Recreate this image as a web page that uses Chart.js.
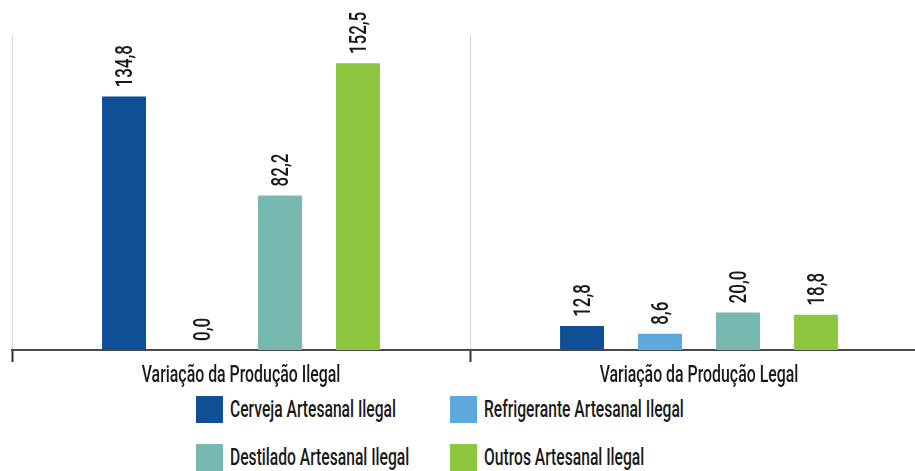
<!DOCTYPE html>
<html>
<head>
<meta charset="utf-8">
<script src="https://cdn.jsdelivr.net/npm/chart.js@4.4.0/dist/chart.umd.min.js"></script>
<style>
  html, body { margin: 0; padding: 0; background: #fff; overflow: hidden; }
  #wrap { position: relative; width: 915px; height: 471px; overflow: hidden; }
  #chart { position: absolute; left: 0; top: 0; }
  #legend {
    position: absolute; left: 196px; top: 396px;
    display: grid; grid-template-columns: 254px 320px; row-gap: 21px;
    font-family: Roboto, sans-serif; font-size: 23px; font-weight: 500; color: #1a1a1a;
  }
  .item { display: flex; align-items: center; height: 27px; white-space: nowrap; }
  .box { width: 27px; height: 27px; margin-right: 7px; flex: none; }
  .name { display: inline-block; transform: scaleX(0.68); transform-origin: left center; }
</style>
</head>
<body>
<div id="wrap">
  <canvas id="chart" width="930" height="390"></canvas>
  <div id="legend"></div>
</div>
<script>
// Categories and series
const categories = ['Variação da Produção Ilegal', 'Variação da Produção Legal'];
const seriesNames = ['Cerveja Artesanal Ilegal', 'Refrigerante Artesanal Ilegal', 'Destilado Artesanal Ilegal', 'Outros Artesanal Ilegal'];
const cerveja = [134.8, 12.8];
const refrigerante = [0.0, 8.6];
const destilado = [82.2, 20.0];
const outros = [152.5, 18.8];
const colors = ['#0f4f96', '#5ca9dd', '#77b9b1', '#8dc63f'];

const FONT = '500 23px Roboto, sans-serif';

// Value above each bar, rotated and squeezed to look condensed
const valueLabels = {
    id: 'valueLabels',
    afterDatasetsDraw(chart) {
        const ctx = chart.ctx;
        ctx.save();
        ctx.font = FONT;
        ctx.fillStyle = '#1a1a1a';
        ctx.textAlign = 'left';
        ctx.textBaseline = 'alphabetic';
        chart.data.datasets.forEach((ds, i) => {
            chart.getDatasetMeta(i).data.forEach((bar, j) => {
                const txt = ds.data[j].toFixed(1).replace('.', ',');
                ctx.save();
                ctx.translate(bar.x, bar.y - 9);
                ctx.rotate(-Math.PI / 2);
                ctx.scale(0.74, 1);
                ctx.fillText(txt, 0, 8);
                ctx.restore();
            });
        });
        ctx.restore();
    }
};

// Category names under the axis, same condensed look
const categoryLabels = {
    id: 'categoryLabels',
    afterDraw(chart) {
        const ctx = chart.ctx;
        const xs = chart.scales.x;
        ctx.save();
        ctx.font = FONT;
        ctx.fillStyle = '#1a1a1a';
        ctx.textAlign = 'center';
        ctx.textBaseline = 'alphabetic';
        chart.data.labels.forEach((lab, i) => {
            ctx.save();
            ctx.translate(xs.getPixelForValue(i), xs.top + 32);
            ctx.scale(0.69, 1);
            ctx.fillText(lab, 0, 0);
            ctx.restore();
        });
        ctx.restore();
    }
};

const seriesData = [cerveja, refrigerante, destilado, outros];

const chart = new Chart(document.getElementById('chart').getContext('2d'), {
    type: 'bar',
    data: {
        labels: categories,
        datasets: seriesNames.map((name, i) => ({
            label: name,
            data: seriesData[i],
            backgroundColor: colors[i],
            borderWidth: 0,
            categoryPercentage: 0.681,
            barPercentage: 0.564
        }))
    },
    options: {
        responsive: false,
        animation: false,
        layout: { padding: { left: 12, right: 2, top: 35, bottom: 0 } },
        plugins: {
            legend: { display: false },
            tooltip: { enabled: false }
        },
        scales: {
            x: {
                grid: {
                    offset: true,
                    color: '#d6d6d6',
                    lineWidth: 1,
                    tickColor: '#333',
                    tickLength: 12,
                    tickWidth: 2
                },
                border: { color: '#4a4a4a', width: 2 },
                ticks: { display: false },
                afterFit(scale) { scale.height = 40; }
            },
            y: { display: false, min: 0, max: 167.5 }
        }
    },
    plugins: [valueLabels, categoryLabels]
});

// Legend in two columns under the chart
const legend = document.getElementById('legend');
chart.data.datasets.forEach(ds => {
    const item = document.createElement('div');
    item.className = 'item';
    const box = document.createElement('span');
    box.className = 'box';
    box.style.background = ds.backgroundColor;
    const text = document.createElement('span');
    text.className = 'name';
    text.textContent = ds.label;
    item.appendChild(box);
    item.appendChild(text);
    legend.appendChild(item);
});
</script>
</body>
</html>
